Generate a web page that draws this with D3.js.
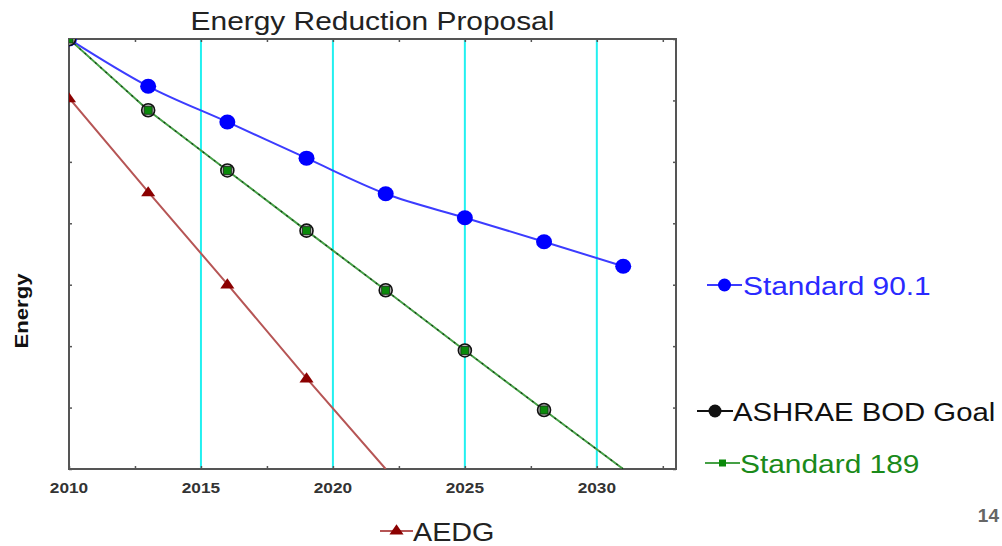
<!DOCTYPE html>
<html>
<head>
<meta charset="utf-8">
<script src="https://cdn.jsdelivr.net/npm/d3@7"></script>
<style>
  html, body { margin: 0; padding: 0; background: #fff; }
  svg { display: block; font-family: "Liberation Sans", Arial, sans-serif; }
</style>
</head>
<body>
<div id="chart"></div>
<script>
// データ
const std901Years = [2010, 2013, 2016, 2019, 2022, 2025, 2028, 2031];
const std901 = [7.0, 6.23, 5.65, 5.06, 4.48, 4.09, 3.70, 3.30];

const goalYears = [2010, 2013, 2016, 2019, 2022, 2025, 2028, 2031];
const ashraeGoal = [7.0, 5.84, 4.86, 3.88, 2.91, 1.93, 0.96, 0];
const std189 = [7.0, 5.84, 4.86, 3.88, 2.91, 1.93, 0.96, 0];

const aedgYears = [2010, 2013, 2016, 2019, 2022];
const aedg = [6.04, 4.51, 3.01, 1.48, 0];

const gridYears = [2015, 2020, 2025, 2030];
const xTickYears = [2010, 2012.5, 2015, 2017.5, 2020, 2022.5, 2025, 2027.5, 2030, 2032.5];
const yTicks = [0, 1, 2, 3, 4, 5, 6, 7];

const titleText = 'Energy Reduction Proposal';
const yLabel = 'Energy';
const pageNumber = '14';

const W = 1002, H = 546;
const plot = { left: 69, right: 676, top: 39, bottom: 469 };
const STRETCH = 1.15;   // 元画像は横に引き伸ばされている

const svg = d3.select('#chart').append('svg')
    .attr('width', W)
    .attr('height', H);

const x = d3.scaleLinear().domain([2010, 2033]).range([plot.left, plot.right]);
const y = d3.scaleLinear().domain([0, 7]).range([plot.bottom, plot.top]);

svg.append('defs').append('clipPath').attr('id', 'plotClip')
    .append('rect')
    .attr('x', plot.left).attr('y', plot.top)
    .attr('width', plot.right - plot.left)
    .attr('height', plot.bottom - plot.top);

// 横に伸ばしたテキスト
function stretchText(g, tx, ty, str, opts) {
    return g.append('text')
        .attr('transform', `translate(${tx},${ty}) scale(${opts.k || STRETCH},1)`)
        .attr('font-size', opts.size)
        .attr('fill', opts.fill || '#222')
        .attr('font-weight', opts.weight || 'normal')
        .attr('text-anchor', opts.anchor || 'start')
        .text(str);
}

// 水色の縦線
svg.append('g').selectAll('line')
    .data(gridYears)
    .join('line')
    .attr('x1', d => x(d)).attr('x2', d => x(d))
    .attr('y1', plot.top).attr('y2', plot.bottom)
    .attr('stroke', '#22f0f0')
    .attr('stroke-width', 2);

// 軸
const axisColor = '#555';
function styleAxis(g) {
    g.select('.domain').remove();
    g.selectAll('.tick line').attr('stroke', axisColor).attr('stroke-width', 1.5);
    g.selectAll('.tick text').remove();
}
svg.append('g').attr('transform', `translate(0,${plot.bottom})`)
    .call(d3.axisBottom(x).tickValues(xTickYears).tickSize(-3)).call(styleAxis);
svg.append('g').attr('transform', `translate(0,${plot.top})`)
    .call(d3.axisTop(x).tickValues(xTickYears).tickSize(-3)).call(styleAxis);
svg.append('g').attr('transform', `translate(${plot.left},0)`)
    .call(d3.axisLeft(y).tickValues(yTicks).tickSize(-3)).call(styleAxis);
svg.append('g').attr('transform', `translate(${plot.right},0)`)
    .call(d3.axisRight(y).tickValues(yTicks).tickSize(-3)).call(styleAxis);

svg.append('rect')
    .attr('x', plot.left).attr('y', plot.top)
    .attr('width', plot.right - plot.left)
    .attr('height', plot.bottom - plot.top)
    .attr('fill', 'none')
    .attr('stroke', axisColor)
    .attr('stroke-width', 2);

// x 目盛りラベル
const xLabels = svg.append('g');
xTickYears.filter(d => d % 5 === 0).forEach(d => {
    stretchText(xLabels, x(d), 493, String(d), { size: 15, weight: 'bold', fill: '#333', anchor: 'middle' });
});

// 系列
const dataGroup = svg.append('g').attr('clip-path', 'url(#plotClip)');
const linear = d3.line().x(d => x(d[0])).y(d => y(d[1]));
const smooth = d3.line().x(d => x(d[0])).y(d => y(d[1])).curve(d3.curveMonotoneX);

const s901 = std901Years.map((d, i) => [d, std901[i]]);
const sGoal = goalYears.map((d, i) => [d, ashraeGoal[i]]);
const s189 = goalYears.map((d, i) => [d, std189[i]]);
const sAedg = aedgYears.map((d, i) => [d, aedg[i]]);

dataGroup.append('path')
    .attr('d', smooth(s901))
    .attr('fill', 'none').attr('stroke', '#3c3cff').attr('stroke-width', 2);

dataGroup.append('path')
    .attr('d', linear(s189))
    .attr('fill', 'none').attr('stroke', '#45a045').attr('stroke-width', 2);

dataGroup.append('path')
    .attr('d', linear(sGoal))
    .attr('fill', 'none').attr('stroke', '#1a3a1a').attr('stroke-width', 1.2)
    .attr('stroke-dasharray', '2,5');

dataGroup.append('path')
    .attr('d', linear(sAedg))
    .attr('fill', 'none').attr('stroke', '#b65555').attr('stroke-width', 2);

// マーカー
const tri = d3.symbol().type(d3.symbolTriangle).size(60);

dataGroup.selectAll('.m901')
    .data(s901.filter(d => d[1] > 0))
    .join('ellipse')
    .attr('class', 'm901')
    .attr('cx', d => x(d[0])).attr('cy', d => y(d[1]))
    .attr('rx', 8).attr('ry', 7.5)
    .attr('fill', '#0000ff');

dataGroup.selectAll('.mGoal')
    .data(sGoal.filter(d => d[1] > 0))
    .join('circle')
    .attr('class', 'mGoal')
    .attr('cx', d => x(d[0])).attr('cy', d => y(d[1]))
    .attr('r', 6.5)
    .attr('fill', '#bbb')
    .attr('stroke', '#111')
    .attr('stroke-width', 1.6);

dataGroup.selectAll('.m189')
    .data(s189.filter(d => d[1] > 0))
    .join('rect')
    .attr('class', 'm189')
    .attr('x', d => x(d[0]) - 4).attr('y', d => y(d[1]) - 4)
    .attr('width', 8).attr('height', 8)
    .attr('fill', '#0a8a0a')
    .attr('stroke', '#1a2a1a')
    .attr('stroke-width', 0.8);

dataGroup.selectAll('.mAedg')
    .data(sAedg.filter(d => d[1] > 0))
    .join('path')
    .attr('class', 'mAedg')
    .attr('d', tri)
    .attr('transform', d => `translate(${x(d[0])},${y(d[1]) + 1}) scale(1.2,1)`)
    .attr('fill', '#8b0000');

// タイトル・軸ラベル
stretchText(svg, (plot.left + plot.right) / 2, 30, titleText, { size: 26, fill: '#222', anchor: 'middle' });

svg.append('text')
    .attr('transform', 'translate(28,311) rotate(-90) scale(1.3,1.05)')
    .attr('font-size', 17)
    .attr('font-weight', 'bold')
    .attr('fill', '#111')
    .attr('text-anchor', 'middle')
    .text(yLabel);

// 凡例
const legend = svg.append('g');
function legendItem(x1, x2, cy, markerFn, color, label, textX, textColor, size) {
    legend.append('line')
        .attr('x1', x1).attr('x2', x2).attr('y1', cy).attr('y2', cy)
        .attr('stroke', color).attr('stroke-width', 2);
    markerFn((x1 + x2) / 2, cy);
    stretchText(legend, textX, cy + 10, label, { size: size || 26, fill: textColor });
}

legendItem(707, 742, 285, (cx, cy) => {
    legend.append('circle').attr('cx', cx).attr('cy', cy).attr('r', 6.5).attr('fill', '#0000ff');
}, '#3c3cff', 'Standard 90.1', 743, '#2a2aff');

legendItem(697, 733, 411, (cx, cy) => {
    legend.append('circle').attr('cx', cx).attr('cy', cy).attr('r', 6.5).attr('fill', '#111');
}, '#111', 'ASHRAE BOD Goal', 733, '#111', 25.5);

legendItem(705, 740, 463, (cx, cy) => {
    legend.append('rect').attr('x', cx - 3.5).attr('y', cy - 3.5).attr('width', 7).attr('height', 7).attr('fill', '#0a8a0a');
}, '#45a045', 'Standard 189', 740, '#1a8a1a');

legendItem(380, 413, 531, (cx, cy) => {
    legend.append('path').attr('d', tri).attr('transform', `translate(${cx},${cy}) scale(1.2,1)`).attr('fill', '#8b0000');
}, '#b65555', 'AEDG', 413, '#222', 25);

// ページ番号
svg.append('text')
    .attr('x', 999).attr('y', 522)
    .attr('text-anchor', 'end')
    .attr('font-size', 19)
    .attr('font-weight', 'bold')
    .attr('fill', '#666')
    .text(pageNumber);
</script>
</body>
</html>
